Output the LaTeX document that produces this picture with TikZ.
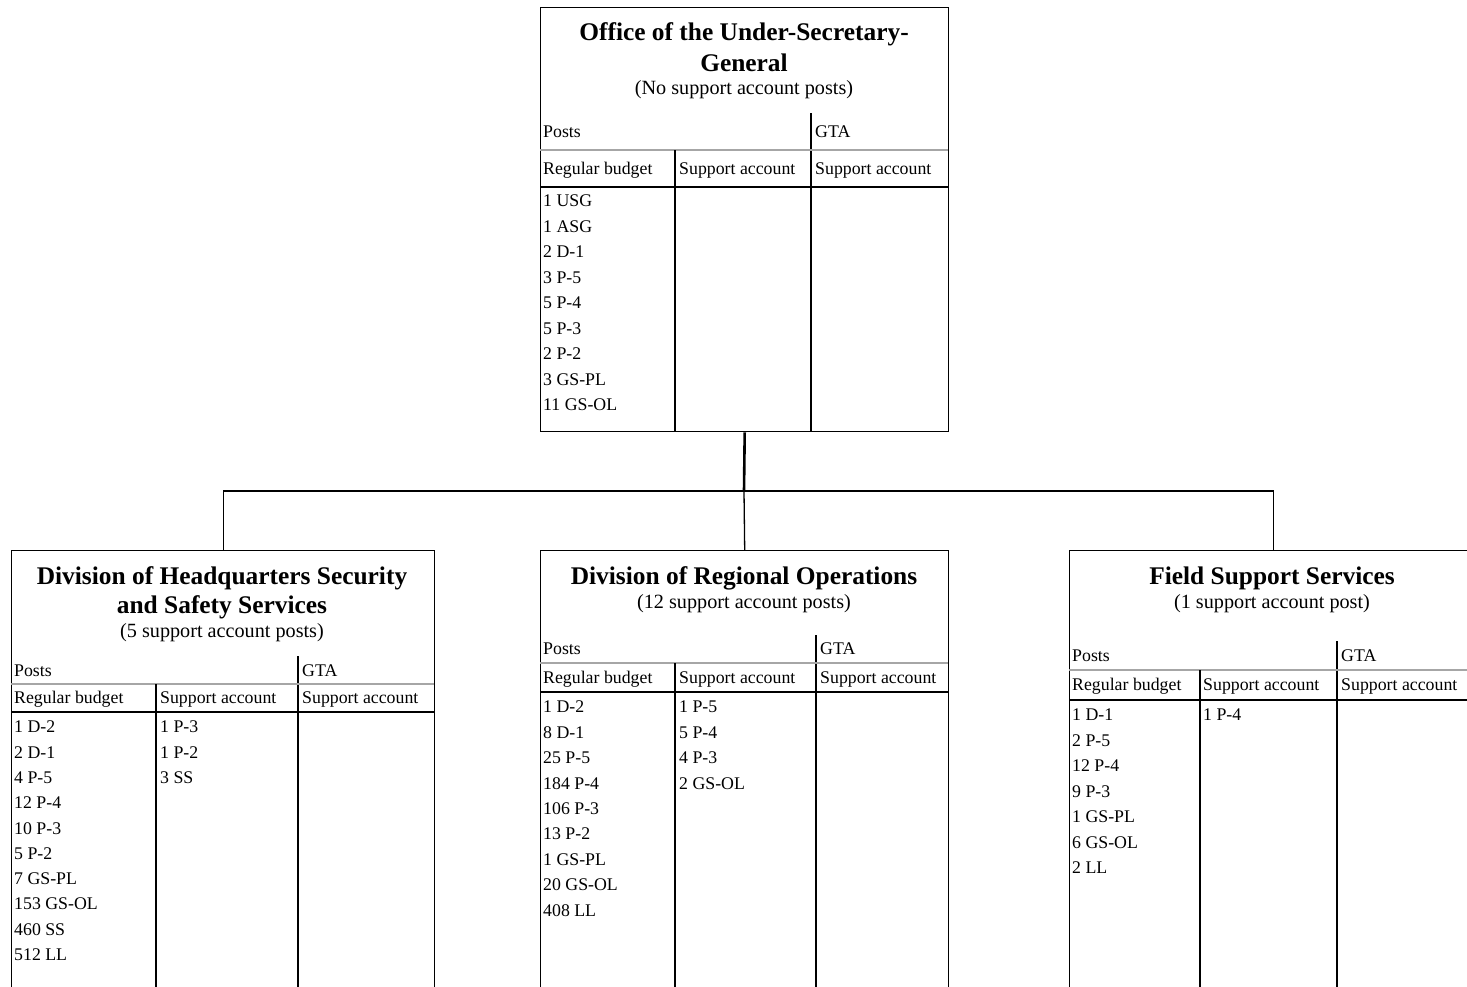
\documentclass[tikz,border=0pt]{standalone}
\usepackage{fontspec}
\setmainfont{Liberation Serif}
\begin{document}
\begin{tikzpicture}[x=1pt,y=-1pt,
  box/.style={draw,line width=1.4pt,rectangle,inner sep=0,anchor=north west},
  txt/.style={anchor=west,inner sep=0,font=\fontsize{17.8}{20}\selectfont},
  ttl/.style={anchor=center,inner sep=0,font=\fontsize{25.4}{28}\selectfont\bfseries},
  sub/.style={anchor=center,inner sep=0,font=\fontsize{20.2}{23}\selectfont},
  rule/.style={line width=1.1pt},
  grayrule/.style={line width=1.4pt,black!35},
  thickrule/.style={line width=2.2pt},
  conn/.style={line width=1.3pt},
  mainconn/.style={line width=2.6pt}
]
\useasboundingbox (0,0) rectangle (1467,986);
\clip (0,0) rectangle (1467,986);

% ---------- boxes ----------
\node[box,minimum width=408pt,minimum height=424pt] (top) at (540,7) {};
\node[box,minimum width=423pt,minimum height=470pt] (L) at (11,550) {};
\node[box,minimum width=408pt,minimum height=470pt] (M) at (540,550) {};
\node[box,minimum width=408pt,minimum height=470pt] (R) at (1069,550) {};

% ---------- connectors ----------
\coordinate (j) at (744,491);
\draw[mainconn] (top.south) -- (j);
\draw[conn] (j) -| (L.north);
\draw[conn] (j) -| (R.north);
\draw[conn] (j) -- (M.north);

% ---------- top box ----------
\node[ttl] (t1) at (744,34) {Office of the Under-Secretary-};
\node[ttl] (t2) at (744,63) {General};
\node[sub] (t3) at (744,90) {(No support account posts)};
\draw[rule] (811,113) -- (811,431);
\draw[grayrule] (540,150) -- (948,150);
\draw[rule] (675,150) -- (675,431);
\draw[thickrule] (540,187) -- (948,187);
\node[txt] (tp) at (543,132) {Posts};
\node[txt] (tg) at (815,132) {GTA};
\node[txt] (th1) at (543,170) {Regular budget};
\node[txt] (th2) at (679,170) {Support account};
\node[txt] (th3) at (815,170) {Support account};
\foreach \t [count=\i from 0] in {1 USG,1 ASG,2 D-1,3 P-5,5 P-4,5 P-3,2 P-2,3 GS-PL,11 GS-OL}
  \node[txt] (td\i) at (543,{201+25.5*\i}) {\t};

% ---------- left box ----------
\node[ttl] (l1) at (222,578) {Division of Headquarters Security};
\node[ttl] (l2) at (222,607) {and Safety Services};
\node[sub] (l3) at (222,633) {(5 support account posts)};
\draw[rule] (298,656) -- (298,990);
\draw[grayrule] (11,684) -- (434,684);
\draw[rule] (156,684) -- (156,990);
\draw[thickrule] (11,712) -- (434,712);
\node[txt] (lp) at (14,671) {Posts};
\node[txt] (lg) at (302,671) {GTA};
\node[txt] (lh1) at (14,699) {Regular budget};
\node[txt] (lh2) at (160,699) {Support account};
\node[txt] (lh3) at (302,699) {Support account};
\foreach \t [count=\i from 0] in {1 D-2,2 D-1,4 P-5,12 P-4,10 P-3,5 P-2,7 GS-PL,153 GS-OL,460 SS,512 LL}
  \node[txt] (ld\i) at (14,{727+25.3*\i}) {\t};
\foreach \t [count=\i from 0] in {1 P-3,1 P-2,3 SS}
  \node[txt] (ls\i) at (160,{727+25.3*\i}) {\t};

% ---------- middle box ----------
\node[ttl] (m1) at (744,578) {Division of Regional Operations};
\node[sub] (m2) at (744,604) {(12 support account posts)};
\draw[rule] (816,635) -- (816,990);
\draw[grayrule] (540,663) -- (948,663);
\draw[rule] (675,663) -- (675,990);
\draw[thickrule] (540,692) -- (948,692);
\node[txt] (mp) at (543,649) {Posts};
\node[txt] (mg) at (820,649) {GTA};
\node[txt] (mh1) at (543,679) {Regular budget};
\node[txt] (mh2) at (679,679) {Support account};
\node[txt] (mh3) at (820,679) {Support account};
\foreach \t [count=\i from 0] in {1 D-2,8 D-1,25 P-5,184 P-4,106 P-3,13 P-2,1 GS-PL,20 GS-OL,408 LL}
  \node[txt] (md\i) at (543,{707+25.4*\i}) {\t};
\foreach \t [count=\i from 0] in {1 P-5,5 P-4,4 P-3,2 GS-OL}
  \node[txt] (ms\i) at (679,{707+25.4*\i}) {\t};

% ---------- right box ----------
\node[ttl] (r1) at (1272,578) {Field Support Services};
\node[sub] (r2) at (1272,604) {(1 support account post)};
\draw[rule] (1337,641) -- (1337,990);
\draw[grayrule] (1069,670) -- (1477,670);
\draw[rule] (1200,670) -- (1200,990);
\draw[thickrule] (1069,700) -- (1477,700);
\node[txt] (rp) at (1072,656) {Posts};
\node[txt] (rg) at (1341,656) {GTA};
\node[txt] (rh1) at (1072,686) {Regular budget};
\node[txt] (rh2) at (1203,686) {Support account};
\node[txt] (rh3) at (1341,686) {Support account};
\foreach \t [count=\i from 0] in {1 D-1,2 P-5,12 P-4,9 P-3,1 GS-PL,6 GS-OL,2 LL}
  \node[txt] (rd\i) at (1072,{715+25.5*\i}) {\t};
\node[txt] (rs0) at (1203,715) {1 P-4};
\end{tikzpicture}
\end{document}
